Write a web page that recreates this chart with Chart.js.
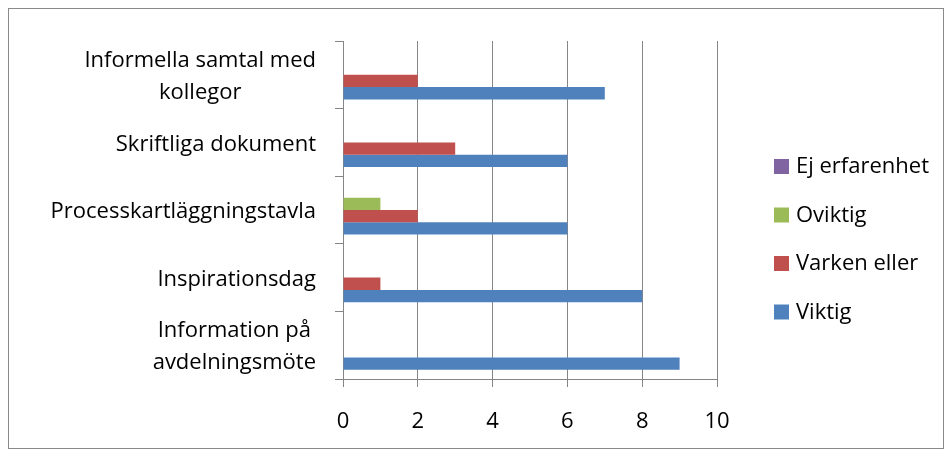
<!DOCTYPE html>
<html lang="sv">
<head>
<meta charset="UTF-8">
<script src="https://cdn.jsdelivr.net/npm/chart.js"></script>
<style>
    body { margin: 0; background: #fff; }
    .frame {
        position: absolute;
        left: 8px;
        top: 8px;
        width: 934px;
        height: 439px;
        border: 1px solid #8a8a8a;
    }
</style>
</head>
<body>
<div class="frame"><canvas id="chart" width="934" height="439"></canvas></div>
<script>
    // kategorier uppifrån och ned
    const categories = [
        ['Informella samtal med', 'kollegor'],
        ['Skriftliga dokument'],
        ['Processkartläggningstavla'],
        ['Inspirationsdag'],
        ['Information på', 'avdelningsmöte']
    ];
    const ejErfarenhet = [0, 0, 0, 0, 0];
    const oviktig = [0, 0, 1, 0, 0];
    const varkenEller = [2, 3, 2, 1, 0];
    const viktig = [7, 6, 6, 8, 9];
    const xTicks = [0, 2, 4, 6, 8, 10];

    const FONT = '"Open Sans", Lato, sans-serif';
    const FONT_SIZE = 22;
    const axisGray = '#868686';

    // etiketter på y-axeln: högerställda block, raderna centrerade
    const yLabels = {
        id: 'yLabels',
        afterDraw(chart) {
            const ctx = chart.ctx;
            const y = chart.scales.y;
            ctx.save();
            ctx.font = FONT_SIZE + 'px ' + FONT;
            ctx.fillStyle = '#000';
            ctx.textAlign = 'center';
            ctx.textBaseline = 'middle';
            const right = chart.chartArea.left - 27;
            const lh = 32;
            categories.forEach((lines, i) => {
                const w = Math.max(...lines.map(l => ctx.measureText(l).width));
                const cx = right - w / 2;
                const cy = y.getPixelForTick(i) + 2;
                lines.forEach((l, k) => {
                    ctx.fillText(l, cx, cy + (k - (lines.length - 1) / 2) * lh);
                });
            });
            ctx.restore();
        }
    };

    // förklaring till höger
    const sideLegend = {
        id: 'sideLegend',
        afterDraw(chart) {
            const ctx = chart.ctx;
            const a = chart.chartArea;
            ctx.save();
            ctx.font = FONT_SIZE + 'px ' + FONT;
            ctx.textBaseline = 'middle';
            ctx.textAlign = 'left';
            chart.data.datasets.forEach((ds, i) => {
                const cy = a.top + 125 + i * 48.5;
                const x = a.right + 57;
                ctx.fillStyle = ds.backgroundColor;
                ctx.fillRect(x, cy - 7, 15, 15);
                ctx.fillStyle = '#000';
                ctx.fillText(ds.label, x + 22, cy + 1);
            });
            ctx.restore();
        }
    };

    new Chart(document.getElementById('chart'), {
        type: 'bar',
        data: {
            labels: categories,
            datasets: [
                { label: 'Ej erfarenhet', data: ejErfarenhet, backgroundColor: '#8064A2' },
                { label: 'Oviktig', data: oviktig, backgroundColor: '#9BBB59' },
                { label: 'Varken eller', data: varkenEller, backgroundColor: '#C0504D' },
                { label: 'Viktig', data: viktig, backgroundColor: '#4F81BD' }
            ]
        },
        options: {
            indexAxis: 'y',
            responsive: false,
            animation: false,
            layout: { padding: { top: 32, right: 226, left: 0, bottom: 0 } },
            datasets: {
                bar: { categoryPercentage: 0.728, barPercentage: 1, borderWidth: 0 }
            },
            scales: {
                y: {
                    afterFit(s) { s.width = 334; },
                    ticks: { display: false },
                    grid: {
                        offset: true,
                        drawOnChartArea: false,
                        tickLength: 8,
                        color: axisGray
                    },
                    border: { color: axisGray, width: 1 }
                },
                x: {
                    min: 0,
                    max: 10,
                    afterFit(s) { s.height = 69; },
                    afterBuildTicks(s) { s.ticks = xTicks.map(v => ({ value: v })); },
                    ticks: {
                        color: '#000',
                        padding: 22,
                        font: { family: FONT, size: FONT_SIZE }
                    },
                    grid: { color: axisGray, tickLength: 8 },
                    border: { color: axisGray, width: 1 }
                }
            },
            plugins: {
                legend: { display: false },
                tooltip: { enabled: false }
            }
        },
        plugins: [yLabels, sideLegend]
    });
</script>
</body>
</html>
